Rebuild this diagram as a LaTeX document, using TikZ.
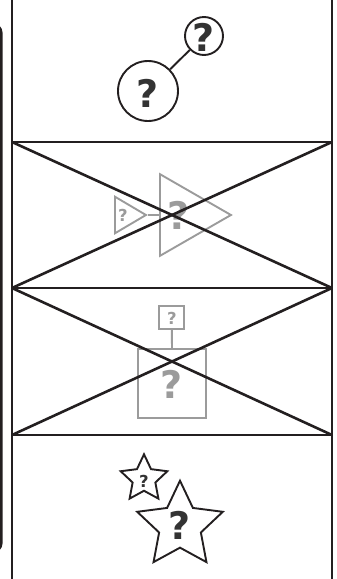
\documentclass[tikz,border=0pt]{standalone}
\usepackage{fontspec}
\newfontfamily\qfont{DejaVu Sans}
\usetikzlibrary{shapes.geometric}
\definecolor{ink}{HTML}{231F20}
\definecolor{qgray}{HTML}{9B9B9B}
\definecolor{qtext}{HTML}{333333}
\begin{document}
\begin{tikzpicture}[x=1pt,y=-1pt,
  frame/.style={draw=ink,line width=2.2pt},
  crossline/.style={draw=ink,line width=2.6pt},
  blk/.style={draw=ink,line width=1.9pt,inner sep=0pt},
  gry/.style={draw=qgray,line width=1.9pt,inner sep=0pt},
  bigq/.style={font=\fontsize{38}{38}\selectfont\qfont\bfseries,text=qtext,inner sep=0pt},
  smallq/.style={font=\fontsize{16.5}{16.5}\selectfont\qfont\bfseries,text=qtext,inner sep=0pt},
  grybig/.style={bigq,text=qgray},
  grysmall/.style={smallq,text=qgray}]
\useasboundingbox (0,0) rectangle (337,579);
\begin{scope}
\clip (0,0) rectangle (337,579);
\draw[ink,line width=2.6pt,rounded corners=9pt] (-60,24) rectangle (1.3,552);
\end{scope}
% frame
\coordinate (tl) at (12,0);
\coordinate (tr) at (332,0);
\coordinate (bl) at (12,579);
\coordinate (br) at (332,579);
\coordinate (a1) at (12,142); \coordinate (a2) at (332,142);
\coordinate (b1) at (12,288); \coordinate (b2) at (332,288);
\coordinate (c1) at (12,435); \coordinate (c2) at (332,435);
% panel 1: circles
\node[circle,blk,minimum size=38pt] (c1s) at (204,36) {};
\node[bigq] (q1s) at (204,37) {?};
\node[circle,blk,minimum size=60pt] (c1b) at (148,91) {};
\node[bigq] (q1b) at (148,93) {?};
\draw[ink,line width=1.9pt] (c1b) -- (c1s);
% panel 2: triangles
\node[isosceles triangle,isosceles triangle stretches,gry,minimum height=31pt,minimum width=36.6pt,anchor=lower side] (t1) at (114,215) {};
\node[grysmall] (q2s) at (123,215) {?};
\node[isosceles triangle,isosceles triangle stretches,gry,minimum height=71pt,minimum width=81.7pt,anchor=lower side] (t2) at (159,215) {};
\node[grybig] (q2b) at (179,215) {?};
\draw[qgray,line width=1.9pt] (t1.apex) -- (t2.lower side);
% panel 3: rectangles
\node[rectangle,gry,minimum width=25pt,minimum height=23.5pt] (r1) at (171.8,317.5) {};
\node[grysmall] (q3s) at (171.8,318) {?};
\node[rectangle,gry,minimum width=68pt,minimum height=68.5pt] (r2) at (172,383.3) {};
\node[grybig] (q3b) at (172,384) {?};
\draw[qgray,line width=1.9pt] (r1.south) -- (r2.north);
% panel 4: stars
\node[star,star points=5,star point ratio=2.05,blk,fill=white,minimum size=49pt] (s1) at (144,478.8) {};
\node[smallq] (q4s) at (144,481.5) {?};
\node[star,star points=5,star point ratio=2.05,blk,fill=white,minimum size=90pt] (s2) at (180,525.7) {};
\node[bigq] (q4b) at (180,525.5) {?};
% crosses
\draw[crossline] (a1) -- (b2);
\draw[crossline] (b1) -- (a2);
\draw[crossline] (b1) -- (c2);
\draw[crossline] (c1) -- (b2);
% frame lines
\draw[frame] (tl) -- (bl);
\draw[frame] (tr) -- (br);
\draw[frame] (a1) -- (a2);
\draw[frame] (b1) -- (b2);
\draw[frame] (c1) -- (c2);
\end{tikzpicture}
\end{document}
